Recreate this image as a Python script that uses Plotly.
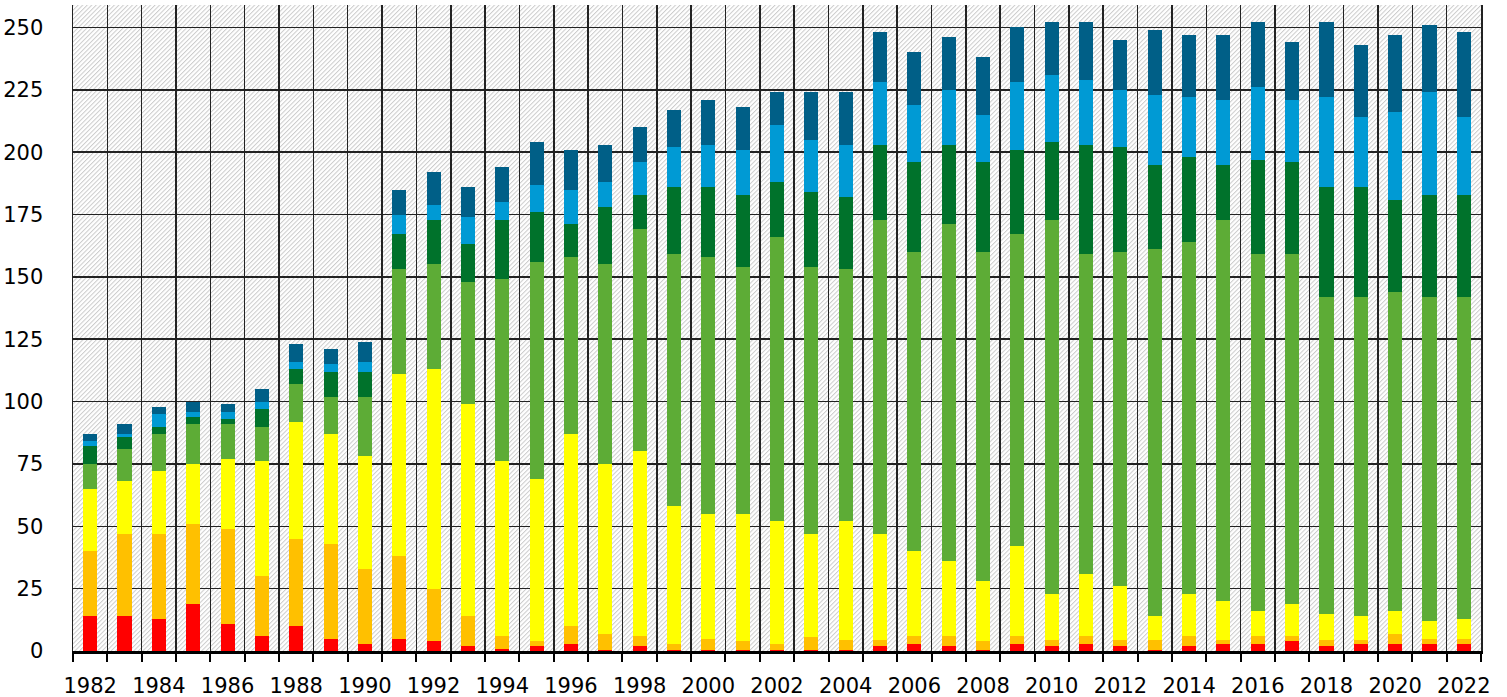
import base64
import plotly.graph_objects as go

years = list(range(1982, 2023))

red = [14, 14, 13, 19, 11, 6, 10, 5, 3, 5, 4, 2, 1, 2, 3, 0.5, 2, 0.5, 0.5, 0.5, 0.5,
       0.5, 0.5, 2, 3, 2, 0.5, 3, 2, 3, 2, 0.5, 2, 3, 3, 4, 2, 3, 3, 3, 3]
orange = [26, 33, 34, 32, 38, 24, 35, 38, 30, 33, 21, 12, 5, 2, 7, 6.5, 4, 2.5, 4.5, 3.5, 2.5,
          5, 4, 2.5, 3, 4, 3.5, 3, 2.5, 3, 2.5, 4, 4, 1.5, 3, 2, 2.5, 1.5, 4, 2, 2]
yellow = [25, 21, 25, 24, 28, 46, 47, 44, 45, 73, 88, 85, 70, 65, 77, 68, 74, 55, 50, 51, 49,
          41.5, 47.5, 42.5, 34, 30, 24, 36, 18.5, 25, 21.5, 9.5, 17, 15.5, 10, 13, 10.5, 9.5, 9, 7, 8]
light_green = [10, 13, 15, 16, 14, 14, 15, 15, 24, 42, 42, 49, 73, 87, 71, 80, 89, 101, 103, 99, 114,
               107, 101, 126, 120, 135, 132, 125, 150, 128, 134, 147, 141, 153, 143, 140, 127, 128, 128, 130, 129]
dark_green = [7, 5, 3, 3, 2, 7, 6, 10, 10, 14, 18, 15, 24, 20, 13, 23, 14, 27, 28, 29, 22,
              30, 29, 30, 36, 32, 36, 34, 31, 44, 42, 34, 34, 22, 38, 37, 44, 44, 37, 41, 41]
light_blue = [2, 1, 5, 2, 3, 3, 3, 3, 4, 8, 6, 11, 7, 11, 14, 10, 13, 16, 17, 18, 23,
              21, 21, 25, 23, 22, 19, 27, 27, 26, 23, 28, 24, 26, 29, 25, 36, 28, 35, 41, 31]
dark_blue = [3, 4, 3, 4, 3, 5, 7, 6, 8, 10, 13, 12, 14, 17, 16, 15, 14, 15, 18, 17, 13,
             19, 21, 20, 21, 21, 23, 22, 21, 23, 20, 26, 25, 26, 26, 23, 30, 29, 31, 27, 34]

series = [red, orange, yellow, light_green, dark_green, light_blue, dark_blue]
colors = ["#ff0000", "#ffc000", "#ffff00", "#5dac36", "#00722b", "#009ad4", "#005f87"]

label_years = [y for y in years if y % 2 == 0]

W, H = 1507, 697
ML, MR, MT, MB = 73, 26, 5, 46
PW, PH = W - ML - MR, H - MT - MB

svg = (
    f"<svg xmlns='http://www.w3.org/2000/svg' width='{PW}' height='{PH}' viewBox='0 0 {PW} {PH}'>"
    "<defs><pattern id='h' width='3.2' height='3.2' patternUnits='userSpaceOnUse' patternTransform='rotate(45)'>"
    "<rect x='0' y='0' width='1' height='3.2' fill='#cbcbcb'/></pattern></defs>"
    f"<rect width='{PW}' height='{PH}' fill='#ffffff'/>"
    f"<rect width='{PW}' height='{PH}' fill='url(#h)'/></svg>"
)
hatch_src = "data:image/svg+xml;base64," + base64.b64encode(svg.encode()).decode()

fig = go.Figure()
for vals, col in zip(series, colors):
    fig.add_trace(go.Bar(x=years, y=vals, width=0.41, marker=dict(color=col, line=dict(width=0)),
                         showlegend=False, hoverinfo="skip"))

font = dict(family="DejaVu Sans", size=21, color="black")

fig.update_layout(
    width=W, height=H,
    margin=dict(l=ML, r=MR, t=MT, b=MB, pad=0),
    barmode="stack",
    paper_bgcolor="white",
    plot_bgcolor="rgba(0,0,0,0)",
    images=[dict(source=hatch_src, xref="paper", yref="paper", x=0, y=1, sizex=1, sizey=1,
                 xanchor="left", yanchor="top", sizing="stretch", layer="below")],
    xaxis=dict(
        range=[1981.5, 2022.5], tickmode="array", tickvals=label_years,
        ticktext=[str(y) for y in label_years], ticks="outside", ticklen=8,
        tickcolor="rgba(0,0,0,0)", showgrid=False, zeroline=False, automargin=False,
        showline=True, linecolor="black", linewidth=2.5, tickfont=font,
        ticklabelstandoff=6,
        minor=dict(tickmode="linear", tick0=1981.5, dtick=1, ticks="outside", ticklen=8,
                   tickwidth=2, tickcolor="black", showgrid=True, gridcolor="#222222", gridwidth=1.5),
    ),
    yaxis=dict(
        range=[0, 259], tickmode="linear", tick0=0, dtick=25, showgrid=True, automargin=False,
        gridcolor="#222222", gridwidth=1.5, zeroline=False, showline=True,
        linecolor="#222222", linewidth=1.5, mirror=True, ticks="", tickfont=font,
        ticklabelstandoff=24,
    ),
)

fig.write_html(
    "out.html",
    config={"displayModeBar": False, "staticPlot": True},
    post_script="document.body.style.margin='0';document.body.style.padding='0';"
                "document.documentElement.style.overflow='hidden';",
)
